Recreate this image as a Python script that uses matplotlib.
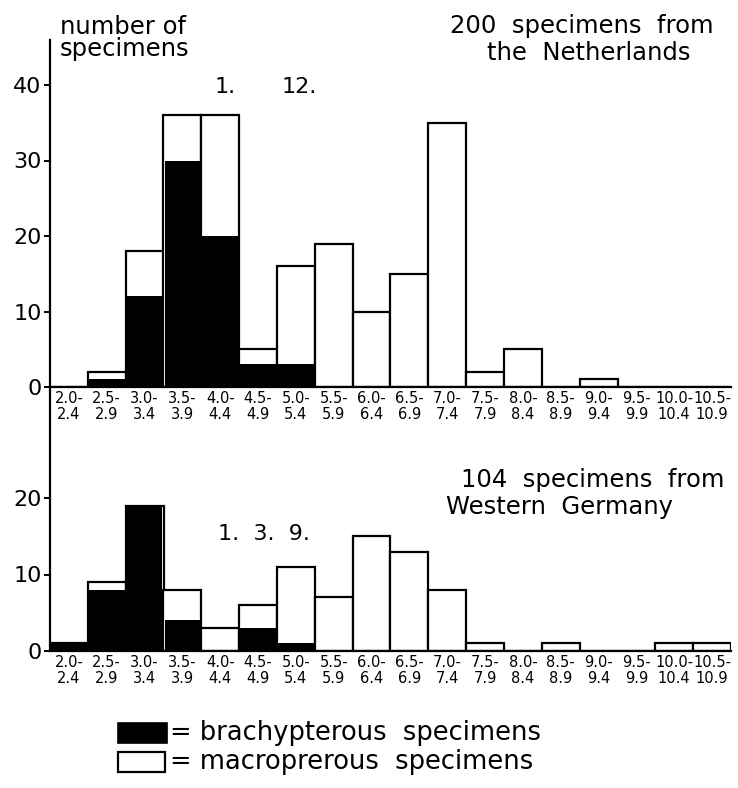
import matplotlib
matplotlib.use("Agg")
import matplotlib.pyplot as plt
from matplotlib.patches import Rectangle

plt.rcParams['font.family'] = ['DejaVu Sans']

# ---- data ----
bin_labels = ["2.0-\n2.4", "2.5-\n2.9", "3.0-\n3.4", "3.5-\n3.9", "4.0-\n4.4", "4.5-\n4.9",
              "5.0-\n5.4", "5.5-\n5.9", "6.0-\n6.4", "6.5-\n6.9", "7.0-\n7.4", "7.5-\n7.9",
              "8.0-\n8.4", "8.5-\n8.9", "9.0-\n9.4", "9.5-\n9.9", "10.0-\n10.4", "10.5-\n10.9"]
nl_total = [0, 2, 18, 36, 36, 5, 16, 19, 10, 15, 35, 2, 5, 0, 1, 0, 0, 0]
nl_brachy = [0, 1, 12, 30, 20, 3, 3, 0, 0, 0, 0, 0, 0, 0, 0, 0, 0, 0]
wg_total = [1, 9, 19, 8, 3, 6, 11, 7, 15, 13, 8, 1, 0, 1, 0, 0, 1, 1]
wg_brachy = [1, 8, 19, 4, 0, 3, 1, 0, 0, 0, 0, 0, 0, 0, 0, 0, 0, 0]
nl_yticks = [0, 10, 20, 30, 40]
wg_yticks = [0, 10, 20]

W, H = 738, 788
fig = plt.figure(figsize=(W / 100, H / 100), dpi=100)

def fx(px):
    return px / W

def fy(py):
    return 1 - py / H

left_px, right_px = 50, 731
ax_top = fig.add_axes([fx(left_px), fy(387), fx(right_px - left_px), (387 - 40) / H])
ax_bot = fig.add_axes([fx(left_px), fy(651), fx(right_px - left_px), (651 - 387) / H])
ax_bot.patch.set_visible(False)
ax_top.patch.set_visible(False)


def draw(ax, total, brachy, yticks, ytop):
    x = list(range(len(total)))
    ax.bar(x, total, width=1.0, align='edge', facecolor='white', edgecolor='black',
           linewidth=1.6, zorder=2)
    xb = [i + 0.03 for i in x]
    ax.bar(xb, brachy, width=0.94, align='edge', facecolor='black', edgecolor='none',
           zorder=3)
    ax.set_xlim(0, len(total))
    ax.set_ylim(0, ytop)
    for s in ['top', 'right']:
        ax.spines[s].set_visible(False)
    ax.spines['left'].set_linewidth(1.6)
    ax.spines['bottom'].set_linewidth(1.6)
    ax.spines['bottom'].set_zorder(4)
    ax.set_yticks(yticks)
    ax.set_yticklabels([str(v) for v in yticks], fontsize=16)
    ax.tick_params(axis='y', direction='out', length=4, width=1.4, pad=2)
    ax.set_xticks([i + 0.5 for i in x])
    ax.set_xticklabels(bin_labels, fontsize=10.5, linespacing=1.05)
    ax.tick_params(axis='x', length=0, pad=3)


draw(ax_top, nl_total, nl_brachy, nl_yticks, (387 - 40) / 7.55)
draw(ax_bot, wg_total, wg_brachy, wg_yticks, (651 - 387) / 7.65)

# ---- texts ----
fig.text(fx(60), fy(15), "number of\nspecimens", fontsize=17.5, ha='left', va='top',
         linespacing=0.92)
fig.text(fx(582), fy(26), "200  specimens  from", fontsize=17.5, ha='center', va='center')
fig.text(fx(589), fy(53), "the  Netherlands", fontsize=17.5, ha='center', va='center')
fig.text(fx(225), fy(87), "1.", fontsize=16, ha='center', va='center')
fig.text(fx(299), fy(87), "12.", fontsize=16, ha='center', va='center')

fig.text(fx(593), fy(480), "104  specimens  from", fontsize=17.5, ha='center', va='center')
fig.text(fx(560), fy(507), "Western  Germany", fontsize=17.5, ha='center', va='center')
fig.text(fx(264), fy(534), "1.  3.  9.", fontsize=16, ha='center', va='center')

# ---- legend ----
fig.patches.append(Rectangle((fx(118), fy(743)), fx(49), (743 - 723) / H,
                             transform=fig.transFigure, facecolor='black',
                             edgecolor='black', linewidth=1.2))
fig.patches.append(Rectangle((fx(118), fy(772)), fx(47), (772 - 752) / H,
                             transform=fig.transFigure, facecolor='white',
                             edgecolor='black', linewidth=1.6))
fig.text(fx(170), fy(733), "= brachypterous  specimens", fontsize=18.5, ha='left', va='center')
fig.text(fx(170), fy(762), "= macroprerous  specimens", fontsize=18.5, ha='left', va='center')

fig.savefig("out.png", dpi=100)
